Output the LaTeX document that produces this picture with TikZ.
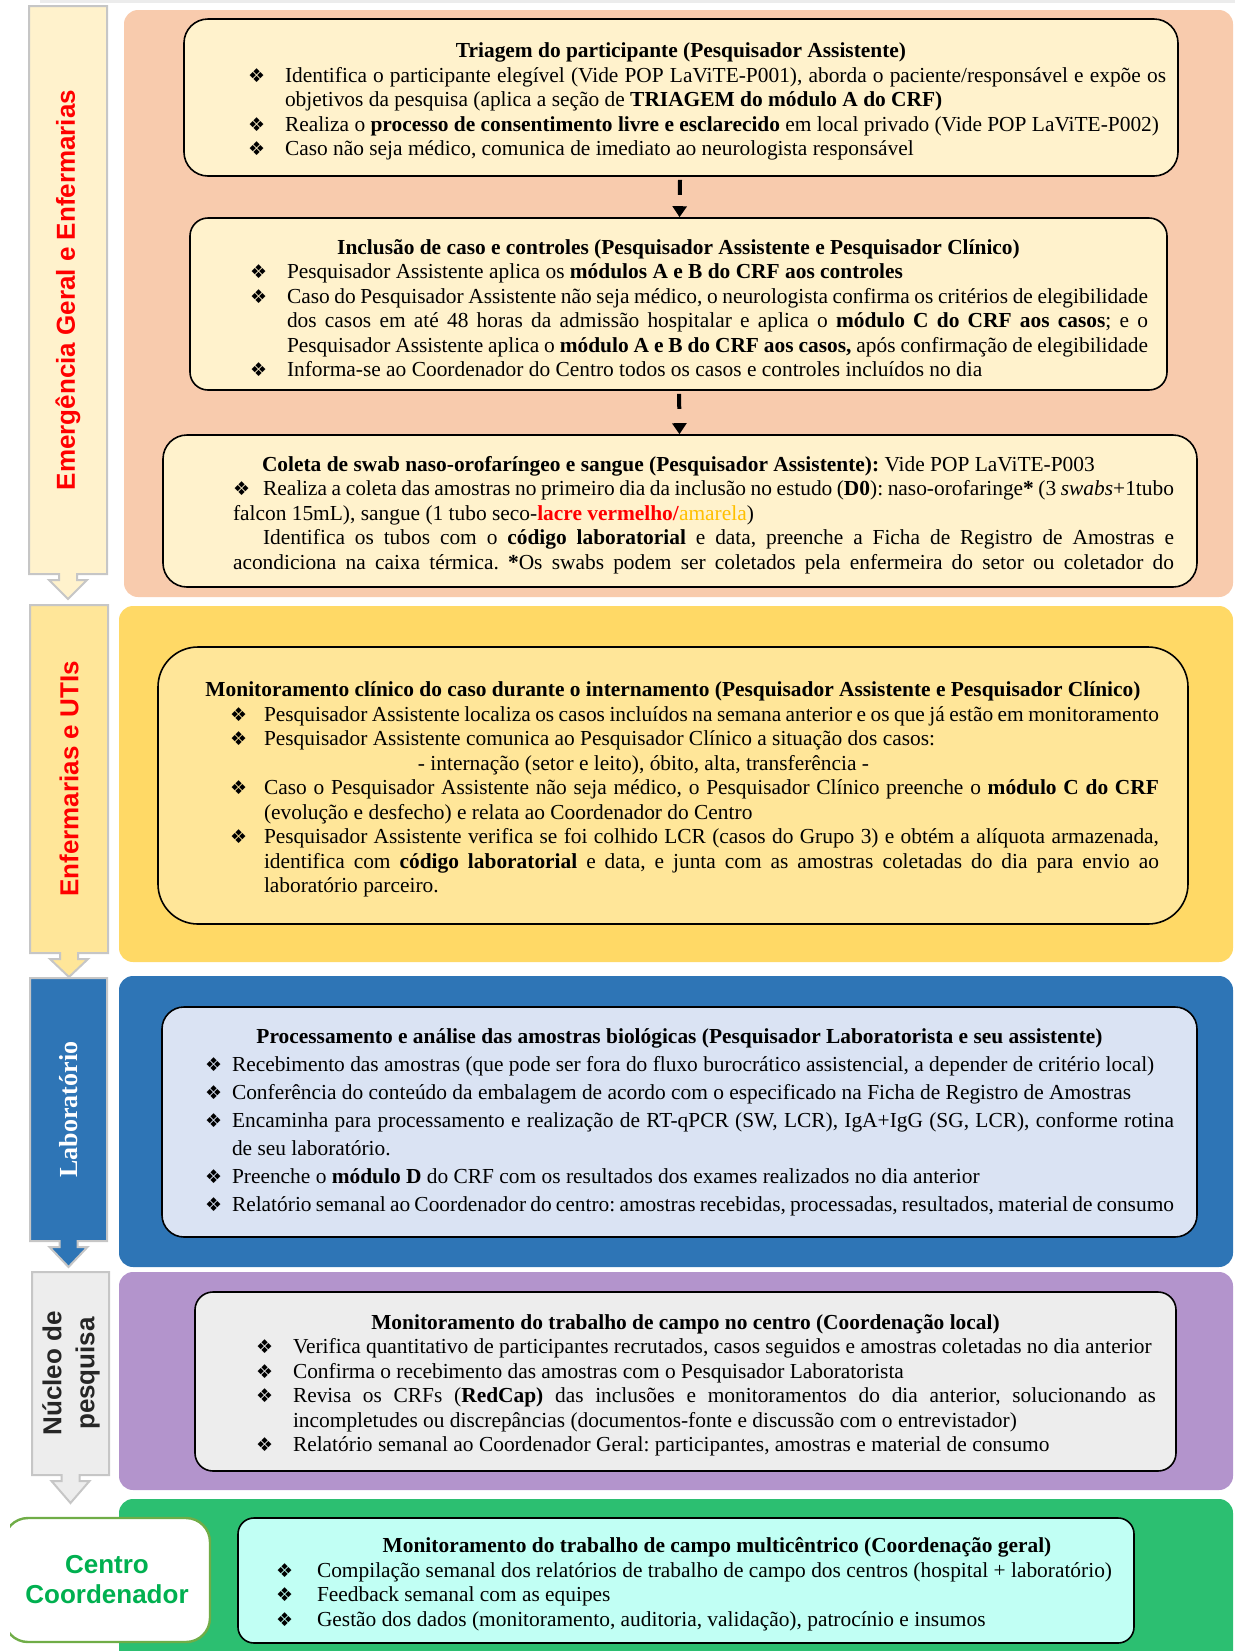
\documentclass[tikz,border=0pt]{standalone}
\usepackage{fontspec}
\setmainfont{Liberation Serif}
\newfontfamily\arialfont{Liberation Sans}
\newfontfamily\simbfont{DejaVu Sans}
\usepackage{xcolor}
\usepackage{tikz}
\usetikzlibrary{arrows.meta, positioning, calc}

\definecolor{pessego}{HTML}{F8CBAD}
\definecolor{creme}{HTML}{FFF2CC}
\definecolor{amarelo}{HTML}{FFD966}
\definecolor{amareloclaro}{HTML}{FFE699}
\definecolor{azul}{HTML}{2E75B6}
\definecolor{azulclaro}{HTML}{DAE3F3}
\definecolor{lilas}{HTML}{B394CC}
\definecolor{cinza}{HTML}{EDEDED}
\definecolor{verde}{HTML}{2CBF71}
\definecolor{ciano}{HTML}{C1FFF4}
\definecolor{verdeborda}{HTML}{70AD47}
\definecolor{verdetexto}{HTML}{00B050}
\definecolor{amarelotexto}{HTML}{FFC000}

\newlength{\recuo}
\newlength{\topo}
\setlength{\topo}{11.5pt}
\newcommand{\simb}{{\simbfont\fontsize{9.5}{9.5}\selectfont ❖}}
\newcommand{\margens}[2]{\leftskip=#1\relax\setlength{\recuo}{#2}}
\newcommand{\titulo}[2][0pt]{{\leftskip=0pt plus 1fil\rightskip=0pt plus 1fil\parfillskip=0pt\noindent\rule{0pt}{\topo}\hspace*{#1}\textbf{#2}\par}}
\newcommand{\topico}[1]{\par\hangindent=\recuo\hangafter=1\noindent\makebox[\recuo][l]{\simb}#1\par}

\begin{document}
\begin{tikzpicture}[
    x=0.5pt, y=-0.5pt,
    faixa/.style={draw=gray!45, line width=1pt},
    rotulo/.style={rotate=90, inner sep=0pt, font=\arialfont\bfseries\fontsize{13}{16.5}\selectfont},
    painel/.style={draw, line width=0.8pt, inner sep=0pt, align=justify,
      font={\fontsize{10.7}{12.25}\selectfont\parindent=0pt\tolerance=2000\hyphenpenalty=10000
        \frenchspacing\spaceskip=0.25em plus 0.15em minus 0.15em}},
    tracejada/.style={line width=2pt, dash pattern=on 7.5pt off 10pt, shorten <=1.5pt,
      -{Triangle[length=5.5pt,width=7pt]}}
]
\useasboundingbox (0,0) rectangle (1235,1651);
\fill[gray!15] (40,0) rectangle (1235,3);

\fill[pessego, rounded corners=7pt] (124,10) rectangle (1233,597);
\fill[amarelo, rounded corners=7pt] (119,606) rectangle (1233,962);
\fill[azul, rounded corners=7pt] (119,976) rectangle (1233,1267);
\fill[lilas, rounded corners=7pt] (119,1272) rectangle (1233,1490);
\fill[verde, rounded corners=7pt] (119,1499) rectangle (1233,1680);

\foreach \xa/\ya/\xb/\yb/\yp/\cx/\cor in {29/6/107/574/599/68/creme,
    30/605/108/953/977/69/amareloclaro, 30/978/107/1241/1267/68.5/azul,
    32/1272/109/1475/1503/70.5/cinza}
  \filldraw[faixa, fill=\cor] (\xa,\ya) -- (\xb,\ya) -- (\xb,\yb) -- (\cx+9,\yb)
    -- (\cx+9,\yb+6) -- (\cx+19,\yb+6) -- (\cx,\yp) -- (\cx-19,\yb+6)
    -- (\cx-9,\yb+6) -- (\cx-9,\yb) -- (\xa,\yb) -- cycle;

\node[rotulo, text=red] (emerg) at (68,290) {Emergência Geral e Enfermarias};
\node[rotulo, text=red] (enferm) at (69,779) {Enfermarias e UTIs};
\node[rotulo, text=white, font=\bfseries\fontsize{13}{16}\selectfont] (labor) at (68.5,1109.5) {Laboratório};
\node[rotulo, text=black!85, align=center] (nucleo) at (71,1373.5) {Núcleo de\\pesquisa};

\begin{scope}
\clip (10,1505) rectangle (300,1651);
\node[draw=verdeborda, line width=1.2pt, fill=white, rounded corners=12pt,
  minimum width=103pt, minimum height=62pt, align=center, text=verdetexto,
  font=\arialfont\bfseries\fontsize{13}{15}\selectfont] (centro) at (107,1580) {Centro\\Coordenador};
\end{scope}

\node[painel, fill=creme, rounded corners=12pt, minimum width=497pt, minimum height=78.5pt,
  text width=485pt] (triagem) at (681,97.5) {\margens{26pt}{18.5pt}%
\titulo{Triagem do participante (Pesquisador Assistente)}
\topico{Identifica o participante elegível (Vide POP LaViTE-P001), aborda o paciente/responsável e expõe os \linebreak objetivos da pesquisa (aplica a seção de \textbf{TRIAGEM do módulo A do CRF)}}
\topico{Realiza o \textbf{processo de consentimento livre e esclarecido} em local privado (Vide POP LaViTE-P002)}
\topico{Caso não seja médico, comunica de imediato ao neurologista responsável}};

\node[painel, fill=creme, rounded corners=9pt, minimum width=488.5pt, minimum height=86pt,
  text width=469.5pt] (inclusao) at (678.5,304) {\margens{20.5pt}{18.5pt}%
\titulo{Inclusão de caso e controles (Pesquisador Assistente e Pesquisador Clínico)}
\topico{Pesquisador Assistente aplica os \textbf{módulos A e B do CRF aos controles}}
\topico{Caso do Pesquisador Assistente não seja médico, o neurologista confirma os critérios de elegibilidade \linebreak dos casos em até 48 horas da admissão hospitalar e aplica o \textbf{módulo C do CRF aos casos}; e o \linebreak Pesquisador Assistente aplica o \textbf{módulo A e B do CRF aos casos,} após confirmação de elegibilidade}
\topico{Informa-se ao Coordenador do Centro todos os casos e controles incluídos no dia}};

\node[painel, fill=creme, rounded corners=12pt, minimum width=517pt, minimum height=76pt,
  text width=494pt] (coleta) at (680,511) {\leftskip=23.5pt%
\noindent\rule{0pt}{\topo}\hspace*{14.5pt}\textbf{Coleta de swab naso-orofaríngeo e sangue (Pesquisador Assistente):} Vide POP LaViTE-P003\par
\noindent\makebox[15pt][l]{\simb}Realiza a coleta das amostras no primeiro dia da inclusão no estudo (\textbf{D0}): naso-orofaringe\textbf{*} (3 \textit{swabs}+1tubo \linebreak falcon 15mL), sangue (1 tubo seco-\textcolor{red}{\textbf{lacre vermelho/}}\textcolor{amarelotexto}{amarela})\par
{\parfillskip=0pt\noindent\hspace*{15pt}Identifica os tubos com o \textbf{código laboratorial} e data, preenche a Ficha de Registro de Amostras e \linebreak acondiciona na caixa térmica. \textbf{*}Os swabs podem ser coletados pela enfermeira do setor ou coletador do\par}};

\draw[tracejada] (triagem) -- (inclusao);
\draw[tracejada] (inclusao) -- (coleta);

\node[painel, fill=amareloclaro, rounded corners=20pt, minimum width=515pt, minimum height=138.5pt,
  text width=486pt] (monitor) at (673,785.5) {\margens{21.5pt}{17pt}%
\titulo{Monitoramento clínico do caso durante o internamento (Pesquisador Assistente e Pesquisador Clínico)}
\topico{Pesquisador Assistente localiza os casos incluídos na semana anterior e os que já estão em monitoramento}
\topico{Pesquisador Assistente comunica ao Pesquisador Clínico a situação dos casos:}
\noindent\hspace*{94pt}- internação (setor e leito), óbito, alta, transferência -\par
\topico{Caso o Pesquisador Assistente não seja médico, o Pesquisador Clínico preenche o \textbf{módulo C do CRF} \linebreak (evolução e desfecho) e relata ao Coordenador do Centro}
\topico{Pesquisador Assistente verifica se foi colhido LCR (casos do Grupo 3) e obtém a alíquota armazenada, \linebreak identifica com \textbf{código laboratorial} e data, e junta com as amostras coletadas do dia para envio ao \linebreak laboratório parceiro.}};

\node[painel, fill=azulclaro, rounded corners=11pt, minimum width=517.5pt, minimum height=115pt,
  text width=494.5pt, font={\fontsize{10.7}{14}\selectfont\parindent=0pt\tolerance=2000
    \hyphenpenalty=10000\frenchspacing\spaceskip=0.25em plus 0.15em minus 0.15em}]
  (process) at (679.5,1122) {\margens{10pt}{13.5pt}\setlength{\topo}{0pt}%
\titulo{Processamento e análise das amostras biológicas (Pesquisador Laboratorista e seu assistente)}
\topico{Recebimento das amostras (que pode ser fora do fluxo burocrático assistencial, a depender de critério local)}
\topico{Conferência do conteúdo da embalagem de acordo com o especificado na Ficha de Registro de Amostras}
\topico{Encaminha para processamento e realização de RT-qPCR (SW, LCR), IgA+IgG (SG, LCR), conforme rotina \linebreak de seu laboratório.}
\topico{Preenche o \textbf{módulo D} do CRF com os resultados dos exames realizados no dia anterior}
\topico{Relatório semanal ao Coordenador do centro: amostras recebidas, processadas, resultados, material de consumo}};

\node[painel, fill=cinza, rounded corners=9pt, minimum width=490.5pt, minimum height=89.5pt,
  text width=470.5pt] (campo) at (685.5,1381.5) {\margens{20.5pt}{18.5pt}%
\titulo{Monitoramento do trabalho de campo no centro (Coordenação local)}
\topico{Verifica quantitativo de participantes recrutados, casos seguidos e amostras coletadas no dia anterior}
\topico{Confirma o recebimento das amostras com o Pesquisador Laboratorista}
\topico{Revisa os CRFs (\textbf{RedCap)} das inclusões e monitoramentos do dia anterior, solucionando as \linebreak incompletudes ou discrepâncias (documentos-fonte e discussão com o entrevistador)}
\topico{Relatório semanal ao Coordenador Geral: participantes, amostras e material de consumo}};

\node[painel, fill=ciano, rounded corners=8pt, minimum width=448pt, minimum height=62.5pt,
  text width=426pt] (geral) at (686,1580.5) {\margens{8pt}{20.5pt}%
\titulo[31pt]{Monitoramento do trabalho de campo multicêntrico (Coordenação geral)}
\topico{Compilação semanal dos relatórios de trabalho de campo dos centros (hospital + laboratório)}
\topico{Feedback semanal com as equipes}
\topico{Gestão dos dados (monitoramento, auditoria, validação), patrocínio e insumos}};
\end{tikzpicture}
\end{document}
